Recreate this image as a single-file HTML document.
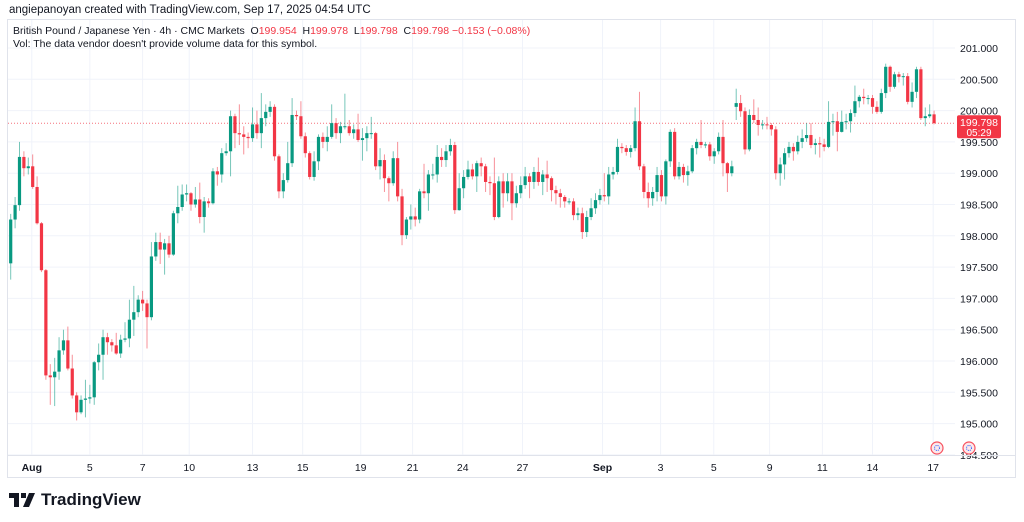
<!DOCTYPE html>
<html><head><meta charset="utf-8">
<style>
html,body{margin:0;padding:0;background:#fff;width:1024px;height:522px;overflow:hidden;font-family:"Liberation Sans","DejaVu Sans",sans-serif;}
#hdr1{position:absolute;left:9px;top:4px;font-size:11.5px;color:#131722;}
#frame{position:absolute;left:7px;top:19px;width:1009px;height:459px;border:1px solid #e0e3eb;box-sizing:border-box;}
#hdr2{position:absolute;left:13px;top:25px;font-size:10.5px;color:#131722;}
#hdr3{position:absolute;left:13px;top:38px;font-size:10.5px;color:#131722;}
.r{color:#f23645}
#logo{position:absolute;left:9px;top:490px;font-size:17px;font-weight:bold;color:#131722;display:flex;align-items:center;gap:6px;}
svg{position:absolute;left:0;top:0}
</style></head><body>
<div id="hdr1">angiepanoyan created with TradingView.com, Sep 17, 2025 04:54 UTC</div>
<div id="frame"></div>
<svg id="chart" width="1024" height="522"></svg>
<div id="hdr2">British Pound / Japanese Yen · 4h · CMC Markets &nbsp;O<span class="r">199.954</span> &nbsp;H<span class="r">199.978</span> &nbsp;L<span class="r">199.798</span> &nbsp;C<span class="r">199.798 −0.153 (−0.08%)</span></div>
<div id="hdr3">Vol: The data vendor doesn't provide volume data for this symbol.</div>
<div id="logo"><svg width="26" height="14" style="position:static"><path d="M0 0h10v14h-5V5H0z M12 0h5v5h-5z M20 0h6l-6 14h-6z" fill="#131722"/></svg><span>TradingView</span></div>
<script>
const closes=[198.26,198.49,199.26,199.08,199.11,198.78,198.20,197.45,195.77,195.74,195.83,196.17,196.33,195.88,195.45,195.18,195.38,195.40,195.42,195.98,196.10,196.38,196.30,196.25,196.12,196.34,196.36,196.66,196.78,196.98,196.92,196.70,197.67,197.90,197.78,197.88,197.70,198.36,198.46,198.66,198.68,198.50,198.58,198.30,198.55,198.52,199.03,198.98,199.32,199.35,199.91,199.64,199.62,199.58,199.56,199.78,199.64,199.88,199.98,200.06,199.27,198.71,198.89,199.16,199.93,199.91,199.59,199.32,198.94,199.19,199.58,199.50,199.58,199.80,199.64,199.75,199.75,199.64,199.70,199.53,199.56,199.64,199.64,199.11,199.21,198.92,198.84,199.24,198.63,198.01,198.26,198.31,198.26,198.71,198.68,198.98,198.98,199.26,199.21,199.35,199.45,198.41,198.76,198.94,199.06,198.95,199.16,199.11,198.86,198.84,198.30,198.87,198.68,198.87,198.52,198.68,198.81,198.95,198.86,199.02,198.86,198.98,198.92,198.73,198.68,198.62,198.55,198.55,198.33,198.36,198.06,198.30,198.44,198.57,198.65,198.63,198.98,199.02,199.42,199.40,199.34,199.40,199.83,199.11,198.70,198.60,198.70,198.97,198.63,199.19,199.66,198.95,199.10,198.97,199.03,199.40,199.50,199.45,199.46,199.27,199.35,199.58,199.16,199.00,199.11,200.12,199.99,199.38,199.93,199.85,199.77,199.78,199.77,199.70,199.00,199.14,199.32,199.42,199.35,199.50,199.56,199.61,199.45,199.48,199.46,199.42,199.82,199.83,199.66,199.82,199.83,199.96,200.15,200.22,200.20,200.20,200.06,199.98,200.28,200.70,200.38,200.58,200.54,200.55,200.14,200.30,200.66,199.88,199.91,199.94,199.80];
const highs=[198.35,198.62,199.50,199.35,199.25,199.30,198.95,198.22,197.47,195.95,196.05,196.38,196.50,196.55,196.10,195.50,195.45,195.70,195.62,196.00,196.28,196.50,196.45,196.35,196.45,196.42,196.62,196.98,197.20,197.05,197.12,196.98,197.90,198.05,198.05,197.95,198.00,198.40,198.80,198.82,198.82,198.70,198.78,198.85,198.62,198.60,199.08,199.10,199.40,199.48,200.00,199.95,200.10,199.75,199.65,200.05,200.00,200.28,200.10,200.15,200.10,199.30,199.00,199.50,200.20,200.00,200.15,199.65,199.35,199.35,199.62,199.65,199.75,200.10,199.88,199.82,200.27,199.85,199.78,199.95,199.72,199.75,199.90,199.66,199.40,199.30,198.95,199.35,199.50,198.75,198.30,198.50,198.45,198.75,199.15,199.05,199.15,199.45,199.40,199.45,199.55,199.50,199.00,199.05,199.20,199.15,199.20,199.25,199.15,198.95,199.25,198.95,199.00,199.00,199.00,198.80,198.95,199.10,199.00,199.10,199.25,199.05,199.20,198.95,198.80,198.75,198.65,198.60,198.60,198.45,198.45,198.40,198.60,198.68,198.75,199.00,199.10,199.10,199.55,199.48,199.45,199.45,200.05,200.30,199.15,198.85,198.78,199.10,199.05,199.22,199.70,199.72,199.18,199.15,199.12,199.45,199.55,199.85,199.50,199.50,199.40,199.65,199.85,199.18,199.20,200.35,200.25,200.05,200.02,200.18,200.05,199.85,199.90,199.80,199.75,199.25,199.40,199.50,199.48,199.60,199.70,199.80,199.80,199.55,199.58,199.55,200.15,199.95,199.98,200.00,199.95,200.02,200.40,200.25,200.35,200.25,200.25,200.15,200.35,200.75,200.72,200.62,200.62,200.60,200.60,200.45,200.70,200.70,200.05,200.10,200.00];
const lows=[197.30,198.12,198.40,198.95,198.98,198.75,198.18,197.42,195.70,195.30,195.28,195.70,196.10,195.85,195.40,195.05,195.15,195.10,195.32,195.30,195.85,195.70,196.10,196.15,196.10,196.05,196.30,196.22,196.40,196.70,196.80,196.20,196.65,197.60,197.55,197.38,197.65,197.68,198.20,198.40,198.55,198.40,198.45,198.20,198.05,198.45,198.50,198.80,198.85,199.28,198.95,199.40,199.45,199.30,199.40,199.50,199.55,199.40,199.75,199.90,199.20,198.60,198.60,198.85,199.10,199.85,199.55,199.25,198.90,198.88,199.05,199.40,199.35,199.55,199.55,199.48,199.70,199.60,199.55,199.50,199.20,199.35,199.55,199.05,198.90,198.70,198.55,198.80,198.55,197.85,197.95,198.10,198.15,198.20,198.60,198.40,198.90,198.85,199.10,199.10,199.28,198.35,198.40,198.60,198.90,198.90,198.70,198.95,198.70,198.65,198.25,198.28,198.45,198.55,198.25,198.45,198.60,198.75,198.60,198.75,198.80,198.65,198.70,198.55,198.50,198.45,198.45,198.50,198.25,198.25,197.95,197.98,198.25,198.35,198.50,198.55,198.50,198.90,198.98,199.32,199.28,199.25,199.35,199.05,198.60,198.45,198.48,198.55,198.55,198.50,199.10,198.90,198.90,198.85,198.80,199.00,199.30,199.40,199.40,199.20,199.15,199.30,198.95,198.70,198.95,199.85,199.90,199.30,199.35,199.80,199.60,199.70,199.70,199.60,198.90,198.80,198.90,199.25,199.20,199.30,199.40,199.50,199.40,199.30,199.25,199.35,199.40,199.60,199.35,199.65,199.70,199.65,199.90,200.05,200.10,200.10,199.95,199.95,199.95,200.20,200.30,200.35,200.45,200.40,200.10,200.05,200.20,199.85,199.75,199.88,199.78];
const firstOpen=197.56;
const gapOpens={165:200.06};
const priceTicks=[201.0,200.5,200.0,199.5,199.0,198.5,198.0,197.5,197.0,196.5,196.0,195.5,195.0,194.5];
const priceTickLabels=["201.000","200.500","200.000","199.500","199.000","198.500","198.000","197.500","197.000","196.500","196.000","195.500","195.000","194.500"];
const dateLabels=["Aug","5","7","10","13","15","19","21","24","27","Sep","3","5","9","11","14","17"];
const dateIndex=[4.8,18,30,40.6,55,66.4,79.6,91.4,102.8,116.4,134.6,147.8,159.9,172.6,184.6,196,209.8];
const lastPrice=199.798, countdown="05:29";

const NS="http://www.w3.org/2000/svg";
const svg=document.getElementById('chart');
const y=p=>48+(201-p)*62.6;
const x=i=>10.7+i*4.397;
function mk(t,a,parent){const e=document.createElementNS(NS,t);for(const k in a)e.setAttribute(k,a[k]);(parent||svg).appendChild(e);return e;}
// grid
priceTicks.forEach((p,k)=>{
  const g=mk('line',{x1:8,x2:955,y1:y(p),y2:y(p),stroke:'#f0f3fa','stroke-width':1});
  
  
  const t=mk('text',{x:979,y:y(p)+4,'font-size':10.5,fill:'#131722','text-anchor':'middle','font-family':'Liberation Sans, sans-serif'});
  t.textContent=priceTickLabels[k];
  
  
});
dateIndex.forEach((di,k)=>{
  const g=mk('line',{x1:x(di),x2:x(di),y1:20,y2:455,stroke:'#f0f3fa','stroke-width':1});
  
  
  const t=mk('text',{x:x(di),y:471,'font-size':10.5,fill:'#131722','text-anchor':'middle','font-family':'Liberation Sans, sans-serif','font-weight':k==0||k==10?'bold':'normal'});
  t.textContent=dateLabels[k];
  
  
});
const ax=mk('line',{x1:8,x2:1016,y1:455.5,y2:455.5,stroke:'#e0e3eb'});


// last price line
const lp=mk('line',{x1:8,x2:955,y1:y(lastPrice),y2:y(lastPrice),stroke:'#f23645','stroke-width':1,'stroke-dasharray':'1 2',opacity:0.7});


// candles
closes.forEach((c,i)=>{
  const o=(i in gapOpens)?gapOpens[i]:(i===0?firstOpen:closes[i-1]);
  const up=c>=o, col=up?'#089981':'#f23645';
  const g=mk('g',{});
  
  
  const cx=x(i);
  mk('line',{x1:cx,x2:cx,y1:y(highs[i]),y2:y(lows[i]),stroke:col,'stroke-width':1,opacity:0.55},g);
  const top=y(Math.max(o,c)),h=Math.max(1,y(Math.min(o,c))-top);
  mk('rect',{x:cx-1.6,y:top,width:3.2,height:h,fill:col},g);
});
// price label
const ly=y(lastPrice);
const lb=mk('rect',{x:957,y:ly-8,width:44,height:23,rx:2,fill:'#f23645'});


const t1=mk('text',{x:979,y:ly+3,'font-size':10.5,fill:'#fff','text-anchor':'middle','font-family':'Liberation Sans, sans-serif'});
t1.textContent=lastPrice.toFixed(3);


const t2=mk('text',{x:979,y:ly+13,'font-size':10,fill:'#fff','text-anchor':'middle','font-family':'Liberation Sans, sans-serif'});
t2.textContent=countdown;


// event icons
[937,969].forEach(cx=>{
  const e=mk('circle',{cx:cx,cy:448,r:6,fill:'#fde8ea',stroke:'#f7525f','stroke-width':1.2});
  
  
  mk('circle',{cx:cx,cy:448,r:2.5,fill:'none',stroke:'#2962ff','stroke-width':1,'stroke-dasharray':'1 1'});
});
</script>
</body></html>
